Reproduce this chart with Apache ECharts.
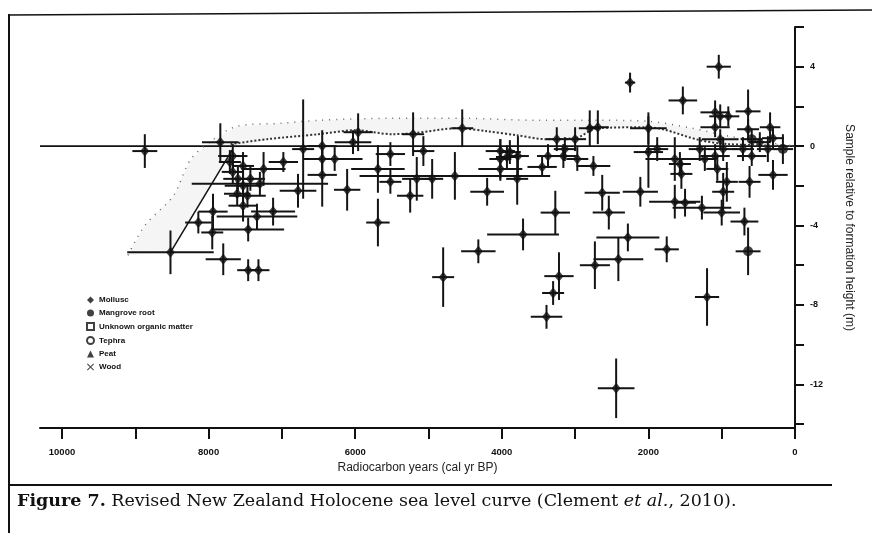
<!DOCTYPE html>
<html>
<head>
<meta charset="utf-8">
<script src="https://cdn.jsdelivr.net/npm/echarts@6/dist/echarts.min.js"></script>
<style>
  html, body { margin: 0; padding: 0; background: #fff; }
  #chart { width: 872px; height: 533px; }
</style>
</head>
<body>
<div id="chart"></div>
<script>
// axis ticks / labels (cal yr BP and metres)
const ageTicks = [0, 1000, 2000, 3000, 4000, 5000, 6000, 7000, 8000, 9000, 10000]
const ageLabels = [0, 2000, 4000, 6000, 8000, 10000]
const heightTicks = [6, 4, 2, 0, -2, -4, -6, -8, -10, -12, -14]
const heightLabels = [4, 0, -4, -8, -12]

const legendNames = ['Mollusc', 'Mangrove root', 'Unknown organic matter', 'Tephra', 'Peat', 'Wood']

// samples: [age, height, age error, height error]
const earlySamples = [
  [8870, -0.25, 170, 0.85], [7840, 0.2, 250, 0.95], [8520, -5.35, 590, 1.1],
  [7800, -5.7, 240, 0.8], [7460, -6.25, 150, 0.55], [7320, -6.25, 150, 0.55],
  [8140, -3.85, 180, 0.55], [7950, -4.35, 150, 0.85], [7460, -4.2, 490, 0.6],
  [7940, -3.3, 200, 0.9], [7530, -3.0, 200, 0.8], [7530, -2.0, 250, 1.0],
  [7300, -1.9, 930, 0.6], [7250, -1.15, 300, 0.85], [6980, -0.8, 200, 0.5],
  [7530, -1.0, 150, 0.7], [7670, -0.5, 200, 0.6], [7340, -3.55, 550, 0.65],
  [7120, -3.3, 300, 0.7], [6780, -2.25, 250, 0.85], [6710, -0.15, 150, 2.5],
  [7430, -1.65, 200, 0.6], [7470, -2.5, 250, 0.6], [7710, -0.8, 150, 0.6],
  [7670, -1.3, 150, 0.6], [7600, -1.65, 200, 0.6], [7610, -2.4, 180, 0.6]
]
const midSamples = [
  [6450, 0, 200, 0.8], [6450, -0.65, 250, 0.6], [6450, -1.45, 200, 1.6],
  [6280, -0.65, 380, 0.6], [6110, -2.2, 180, 1.05], [5960, 0.7, 200, 0.95],
  [6030, 0.2, 250, 0.6], [5690, -1.15, 365, 1.2], [5520, -0.4, 200, 0.6],
  [5520, -1.8, 150, 0.6], [5690, -3.85, 160, 1.2], [5210, 0.6, 150, 1.1],
  [5250, -2.5, 180, 0.85], [5160, -1.65, 200, 1.1], [5070, -0.25, 150, 0.75],
  [4950, -1.65, 150, 1.0], [4540, 0.9, 150, 0.95], [4640, -1.5, 1300, 1.2],
  [4200, -2.3, 230, 0.7], [4020, -0.25, 200, 0.6], [4020, -1.15, 300, 0.6],
  [3930, -0.55, 150, 0.6], [3780, -0.5, 150, 1.0], [3790, -1.65, 150, 1.3],
  [3450, -1.05, 200, 0.5], [3370, -0.5, 150, 0.6], [3250, 0.35, 150, 0.6],
  [3270, -3.35, 200, 1.1], [3710, -4.45, 490, 0.8], [4320, -5.3, 235, 0.6],
  [4800, -6.6, 150, 1.5], [3220, -6.55, 200, 1.2], [3300, -7.4, 150, 0.6],
  [3390, -8.6, 215, 0.6], [4020, -0.65, 150, 1.0], [3890, -0.3, 150, 0.6],
  [3160, -0.5, 200, 0.6], [2970, -0.65, 150, 0.6]
]
const lateSamples = [
  [2730, -6.0, 205, 1.2], [2410, -5.7, 340, 1.1], [2280, -4.6, 430, 0.7],
  [1750, -5.2, 165, 0.65], [1200, -7.6, 165, 1.45], [690, -3.8, 190, 0.7],
  [2440, -12.2, 250, 1.5], [2250, 3.2, 70, 0.5], [1040, 4.0, 165, 0.6],
  [1530, 2.3, 195, 0.7], [2000, 0.9, 250, 0.8], [2800, 0.9, 150, 0.9],
  [2690, 0.95, 150, 0.85], [3000, 0.35, 150, 0.6], [3140, -0.15, 150, 0.6],
  [2750, -1.0, 230, 0.5], [2630, -2.35, 240, 0.9], [2540, -3.35, 220, 0.85],
  [2110, -2.3, 240, 0.75], [2000, -0.3, 200, 1.8], [1880, -0.15, 150, 0.6],
  [1640, -0.65, 400, 1.1], [1570, -0.9, 150, 0.6], [1550, -1.4, 150, 0.75],
  [1640, -2.8, 350, 0.85], [1500, -2.85, 150, 0.7], [1270, -3.1, 400, 0.6],
  [1000, -3.35, 250, 0.65], [1090, 1.7, 200, 0.6], [1020, 1.5, 150, 0.6],
  [910, 1.5, 150, 0.5], [1090, 0.95, 200, 0.5], [1020, 0.35, 250, 0.5],
  [1090, -0.5, 200, 0.6], [1060, -1.15, 150, 0.6], [980, -2.3, 150, 0.95],
  [980, -0.15, 200, 0.6], [640, 1.75, 170, 1.1], [640, 0.85, 150, 0.5],
  [710, -0.15, 150, 0.6], [590, -0.5, 200, 0.5], [480, 0.2, 150, 0.5],
  [340, 0.95, 140, 0.75], [300, 0.4, 150, 0.5], [370, -0.15, 150, 0.65],
  [300, -1.45, 200, 0.75], [620, -1.8, 150, 0.8], [930, -1.8, 150, 1.0],
  [1300, -0.15, 150, 0.6], [1230, -0.65, 150, 0.6]
]
const mangroveSamples = [
  [640, -5.3, 170, 1.2], [590, 0.35, 150, 0.5], [165, -0.15, 140, 0.75]
]

// curves
const zeroLine = [[10300, 0], [0, 0]]
const earlyRise = [[8520, -5.35], [7680, -0.2]]
const seaLevelCurve = [
  [7700, 0.1], [7200, 0.35], [6500, 0.6], [6000, 0.8], [5500, 0.6], [5200, 0.65],
  [4600, 0.9], [4200, 0.75], [3800, 0.55], [3400, 0.35], [3000, 0.4], [2700, 0.9],
  [2000, 0.95], [1800, 0.85], [1300, 0.3], [900, 0.1], [0, 0]
]
const upperEnvelope = [
  [9100, -5.5], [8870, -4.0], [8480, -2.5], [8250, -0.7], [7950, 0.3], [7610, 1.0],
  [7000, 1.15], [6500, 1.3], [5500, 1.4], [4500, 1.4], [3500, 1.3], [2600, 1.3],
  [2000, 1.25], [1400, 0.9], [900, 0.5], [400, 0.2], [0, 0]
]

const allSamples = earlySamples.concat(midSamples, lateSamples, mangroveSamples)

const chart = echarts.init(document.getElementById('chart'))

const errorBars = (params, api) => {
  const x = api.value(0), y = api.value(1), dx = api.value(2), dy = api.value(3)
  const a = api.coord([x + dx, y]), b = api.coord([x - dx, y])
  const c = api.coord([x, y + dy]), d = api.coord([x, y - dy])
  const style = { stroke: '#141414', lineWidth: 2 }
  return {
    type: 'group',
    children: [
      { type: 'line', shape: { x1: a[0], y1: a[1], x2: b[0], y2: b[1] }, style },
      { type: 'line', shape: { x1: c[0], y1: c[1], x2: d[0], y2: d[1] }, style }
    ]
  }
}

const envelopeBand = (params, api) => {
  const lower = earlyRise.concat(seaLevelCurve.slice(1))
  const pts = upperEnvelope.map(p => api.coord(p))
    .concat(lower.slice().reverse().map(p => api.coord(p)))
  return { type: 'polygon', shape: { points: pts }, style: { fill: 'rgba(0,0,0,0.04)' }, silent: true }
}

const emptySeries = (name, symbol, filled, size) => ({
  name, type: 'scatter', data: [], symbol, symbolSize: size,
  itemStyle: filled ? { color: '#111' } : { color: '#fff', borderColor: '#111', borderWidth: 1.5 }
})

const option = {
  animation: false,
  grid: { left: 40, right: 77, top: 27, bottom: 105 },
  legend: {
    data: legendNames,
    orient: 'vertical',
    left: 81,
    top: 291,
    itemWidth: 7,
    itemHeight: 7,
    itemGap: 5,
    textStyle: { fontSize: 8, fontWeight: 'bold', color: '#111', fontFamily: 'Liberation Sans, Arial', lineHeight: 8 }
  },
  xAxis: {
    type: 'value',
    inverse: true,
    min: 0,
    max: 10300,
    name: 'Radiocarbon years (cal yr BP)',
    nameLocation: 'middle',
    nameGap: 32,
    nameTextStyle: { fontSize: 12, color: '#222', fontFamily: 'Liberation Sans, Arial' },
    axisLine: { onZero: false, lineStyle: { color: '#111', width: 2 } },
    axisTick: { customValues: ageTicks, length: 11, lineStyle: { color: '#111', width: 2 } },
    axisLabel: {
      customValues: ageLabels, margin: 19, fontSize: 9.5, fontWeight: 'bold', color: '#111',
      fontFamily: 'Liberation Sans, Arial', formatter: v => String(v)
    },
    splitLine: { show: false }
  },
  yAxis: {
    type: 'value',
    position: 'right',
    min: -14.2,
    max: 6,
    name: 'Sample relative to formation height (m)',
    nameLocation: 'middle',
    nameRotate: -90,
    nameGap: 48,
    nameTextStyle: { fontSize: 12, color: '#222', fontFamily: 'Liberation Sans, Arial' },
    axisLine: { onZero: false, lineStyle: { color: '#111', width: 2 } },
    axisTick: { customValues: heightTicks, length: 9, lineStyle: { color: '#111', width: 2 } },
    axisLabel: {
      customValues: heightLabels, margin: 15, fontSize: 9, fontWeight: 'bold', color: '#111',
      fontFamily: 'Liberation Sans, Arial'
    },
    splitLine: { show: false }
  },
  graphic: [
    { type: 'line', shape: { x1: 8, y1: 15, x2: 872, y2: 10 }, style: { stroke: '#111', lineWidth: 1.5 } },
    { type: 'line', shape: { x1: 9, y1: 14, x2: 9, y2: 533 }, style: { stroke: '#111', lineWidth: 2 } },
    { type: 'line', shape: { x1: 8, y1: 485, x2: 832, y2: 485 }, style: { stroke: '#111', lineWidth: 2 } },
    {
      type: 'text', left: 17, top: 492,
      style: {
        text: '{b|Figure 7.} Revised New Zealand Holocene sea level curve (Clement {i|et al.}, 2010).',
        fill: '#111', font: '17.5px "DejaVu Serif"',
        rich: {
          b: { fontWeight: 'bold', fontSize: 17.5, fontFamily: 'DejaVu Serif' },
          i: { fontStyle: 'italic', fontSize: 17.5, fontFamily: 'DejaVu Serif' }
        }
      }
    }
  ],
  series: [
    { type: 'custom', name: 'band', renderItem: envelopeBand, data: [0], silent: true, z: 1 },
    { type: 'line', name: 'zero', data: zeroLine, symbol: 'none', lineStyle: { color: '#111', width: 1.8 }, z: 2 },
    { type: 'line', name: 'rise', data: earlyRise, symbol: 'none', lineStyle: { color: '#111', width: 1.5 }, z: 2 },
    { type: 'line', name: 'curve', data: seaLevelCurve, symbol: 'none', smooth: 0.3, lineStyle: { color: '#333', width: 2, type: 'dotted' }, z: 2 },
    { type: 'line', name: 'envelope', data: upperEnvelope, symbol: 'none', smooth: 0.3, lineStyle: { color: '#666', width: 1.5, type: [1, 6] }, z: 2 },
    { type: 'custom', name: 'errors', renderItem: errorBars, data: allSamples, z: 3 },
    {
      name: 'Mollusc', type: 'scatter', symbol: 'diamond', symbolSize: [9, 11], z: 4,
      itemStyle: { color: '#111' }, data: earlySamples.concat(midSamples, lateSamples).map(s => [s[0], s[1]])
    },
    {
      name: 'Mangrove root', type: 'scatter', symbol: 'circle', symbolSize: 10, z: 4,
      itemStyle: { color: '#111' }, data: mangroveSamples.map(s => [s[0], s[1]])
    },
    emptySeries('Unknown organic matter', 'rect', false, 7),
    emptySeries('Tephra', 'circle', false, 7),
    emptySeries('Peat', 'triangle', true, 7),
    emptySeries('Wood', 'path://M1,0L5,4L9,0L10,1L6,5L10,9L9,10L5,6L1,10L0,9L4,5L0,1Z', true, 7)
  ]
}

chart.setOption(option)
</script>
</body>
</html>
